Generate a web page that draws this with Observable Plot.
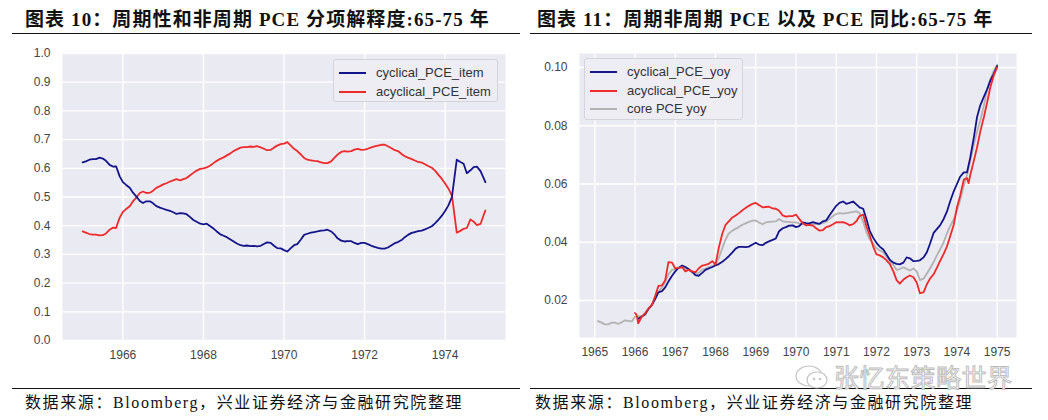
<!DOCTYPE html>
<html><head><meta charset="utf-8">
<script src="https://cdn.jsdelivr.net/npm/d3@7"></script>
<script src="https://cdn.jsdelivr.net/npm/@observablehq/plot@0.6"></script>
<style>
body{margin:0;background:#fff;}
#root{position:relative;width:1048px;height:420px;overflow:hidden;background:#fff;}
.title{position:absolute;top:9px;line-height:22px;font-weight:bold;font-size:19px;letter-spacing:1.1px;font-family:"Liberation Serif","Noto Sans CJK SC",serif;color:#111;white-space:nowrap;}
.rule{position:absolute;height:0;border-top:1.4px solid #111;}
.foot{position:absolute;top:393px;line-height:20px;font-size:16px;letter-spacing:1.6px;font-family:"Liberation Serif","Noto Sans CJK SC",serif;color:#111;white-space:nowrap;}
.chart{position:absolute;top:40px;}
.legend{position:absolute;background:#EDEDF3;border:1px solid #D4D4DC;border-radius:3px;font-family:"Liberation Sans",Arial,sans-serif;font-size:13px;color:#333;box-sizing:border-box;}
.row{position:absolute;left:0;height:18px;line-height:18px;white-space:nowrap;}
.sw{position:absolute;top:8px;height:0;border-top:2px solid;}
.wm{position:absolute;left:834px;top:363px;line-height:26px;font-family:"Noto Sans CJK SC",sans-serif;font-size:25px;color:#fff;-webkit-text-stroke:1px #bdbdbd;letter-spacing:0.5px;white-space:nowrap;}
</style></head>
<body><div id="root"></div>
<script>
// ---------- Chart 10 data ----------
const leftDates = [1965.00,1965.08,1965.17,1965.25,1965.33,1965.42,1965.50,1965.58,1965.67,1965.75,1965.83,1965.92,
1966.00,1966.08,1966.17,1966.25,1966.33,1966.42,1966.50,1966.58,1966.67,1966.75,1966.83,1966.92,
1967.00,1967.08,1967.17,1967.25,1967.33,1967.42,1967.50,1967.58,1967.67,1967.75,1967.83,1967.92,
1968.00,1968.08,1968.17,1968.25,1968.33,1968.42,1968.50,1968.58,1968.67,1968.75,1968.83,1968.92,
1969.00,1969.08,1969.17,1969.25,1969.33,1969.42,1969.50,1969.58,1969.67,1969.75,1969.83,1969.92,
1970.00,1970.08,1970.17,1970.25,1970.33,1970.42,1970.50,1970.58,1970.67,1970.75,1970.83,1970.92,
1971.00,1971.08,1971.17,1971.25,1971.33,1971.42,1971.50,1971.58,1971.67,1971.75,1971.83,1971.92,
1972.00,1972.08,1972.17,1972.25,1972.33,1972.42,1972.50,1972.58,1972.67,1972.75,1972.83,1972.92,
1973.00,1973.08,1973.17,1973.25,1973.33,1973.42,1973.50,1973.58,1973.67,1973.75,1973.83,1973.92,
1974.00,1974.08,1974.17,1974.29,1974.38,1974.46,1974.54,1974.63,1974.71,1974.79,1974.88,1974.96,1975.00];
const cyclicalItem = [0.621,0.624,0.630,0.632,0.632,0.637,0.634,0.626,0.612,0.606,0.607,0.572,
0.552,0.542,0.532,0.515,0.502,0.486,0.479,0.485,0.485,0.478,0.468,0.463,
0.459,0.455,0.452,0.447,0.441,0.444,0.443,0.440,0.430,0.420,0.414,0.407,
0.405,0.407,0.398,0.390,0.380,0.370,0.365,0.360,0.352,0.345,0.338,0.332,
0.330,0.331,0.329,0.330,0.328,0.330,0.336,0.342,0.340,0.330,0.322,0.321,
0.315,0.310,0.322,0.332,0.336,0.352,0.368,0.372,0.376,0.378,0.380,0.383,
0.384,0.386,0.380,0.370,0.356,0.348,0.345,0.346,0.346,0.340,0.336,0.340,
0.340,0.336,0.330,0.326,0.323,0.320,0.320,0.324,0.332,0.339,0.343,0.350,
0.360,0.368,0.375,0.378,0.381,0.383,0.387,0.392,0.398,0.408,0.420,0.435,
0.451,0.470,0.500,0.630,0.622,0.616,0.583,0.593,0.604,0.606,0.590,0.565,0.552];
const acyclicalItem = [0.380,0.376,0.371,0.369,0.369,0.366,0.367,0.373,0.386,0.393,0.392,0.428,
0.448,0.458,0.468,0.485,0.498,0.514,0.519,0.514,0.515,0.522,0.532,0.538,
0.544,0.548,0.554,0.558,0.562,0.558,0.562,0.566,0.576,0.584,0.592,0.598,
0.600,0.603,0.610,0.618,0.626,0.633,0.638,0.645,0.652,0.660,0.666,0.672,
0.674,0.674,0.676,0.675,0.677,0.673,0.668,0.663,0.664,0.672,0.679,0.684,
0.686,0.691,0.679,0.668,0.660,0.648,0.636,0.630,0.628,0.626,0.625,0.621,
0.618,0.618,0.624,0.636,0.648,0.657,0.660,0.658,0.660,0.665,0.668,0.664,
0.665,0.668,0.673,0.676,0.679,0.682,0.682,0.677,0.670,0.663,0.660,0.650,
0.642,0.637,0.632,0.627,0.622,0.620,0.614,0.608,0.602,0.592,0.578,0.563,
0.547,0.530,0.505,0.376,0.382,0.389,0.392,0.422,0.414,0.402,0.406,0.438,0.453];
const leftXTicks = [1966,1968,1970,1972,1974];
const leftYTicks = [0,0.1,0.2,0.3,0.4,0.5,0.6,0.7,0.8,0.9,1.0];
const leftSeries = ["cyclical_PCE_item","acyclical_PCE_item"];

// ---------- Chart 11 data ----------
const coreDates = [1965.08,1965.17,1965.25,1965.33,1965.42,1965.50,1965.58,1965.67,1965.75,1965.83,1965.92,
1966.00,1966.08,1966.17,1966.25,1966.33,1966.42,1966.50,1966.58,1966.67,1966.75,1966.83,1966.92,
1967.00,1967.08,1967.17,1967.25,1967.33,1967.42,1967.50,1967.58,1967.67,1967.75,1967.83,1967.92,
1968.00,1968.08,1968.17,1968.25,1968.33,1968.42,1968.50,1968.58,1968.67,1968.75,1968.83,1968.92,
1969.00,1969.08,1969.17,1969.25,1969.33,1969.42,1969.50,1969.58,1969.67,1969.75,1969.83,1969.92,
1970.00,1970.08,1970.17,1970.25,1970.33,1970.42,1970.50,1970.58,1970.67,1970.75,1970.83,1970.92,
1971.00,1971.08,1971.17,1971.25,1971.33,1971.42,1971.50,1971.58,1971.67,1971.75,1971.83,1971.92,
1972.00,1972.08,1972.17,1972.25,1972.33,1972.42,1972.50,1972.58,1972.67,1972.75,1972.83,1972.92,
1973.00,1973.08,1973.17,1973.25,1973.33,1973.42,1973.50,1973.58,1973.67,1973.75,1973.83,1973.92,
1974.00,1974.08,1974.17,1974.25,1974.33,1974.42,1974.50,1974.58,1974.67,1974.75,1974.83,1974.92,1975.00];
const coreYoy = [0.0129,0.0124,0.0118,0.0118,0.0124,0.0124,0.0120,0.0125,0.0132,0.0130,0.0128,
0.0145,0.0146,0.0145,0.0158,0.0170,0.0185,0.0210,0.0230,0.0245,0.0262,0.0290,0.0305,
0.0308,0.0312,0.0312,0.0310,0.0305,0.0300,0.0293,0.0295,0.0305,0.0310,0.0315,0.0318,
0.0325,0.0345,0.0380,0.0410,0.0430,0.0440,0.0446,0.0452,0.0460,0.0465,0.0470,0.0474,
0.0475,0.0468,0.0462,0.0468,0.0470,0.0471,0.0472,0.0480,0.0472,0.0470,0.0470,0.0468,
0.0468,0.0465,0.0462,0.0460,0.0460,0.0462,0.0462,0.0463,0.0466,0.0470,0.0480,0.0490,
0.0497,0.0500,0.0498,0.0500,0.0502,0.0504,0.0506,0.0500,0.0470,0.0435,0.0410,0.0395,
0.0380,0.0372,0.0365,0.0350,0.0335,0.0322,0.0305,0.0308,0.0314,0.0308,0.0303,0.0310,
0.0300,0.0270,0.0275,0.0292,0.0310,0.0332,0.0355,0.0375,0.0400,0.0430,0.0455,0.0478,
0.0510,0.0545,0.0595,0.0630,0.0680,0.0735,0.0780,0.0818,0.0870,0.0925,0.0960,0.0990,0.1010];
const cycDates = [1966.08,1966.17,1966.25,1966.33,1966.42,1966.50,1966.58,1966.67,1966.75,1966.83,1966.92,
1967.00,1967.08,1967.17,1967.25,1967.33,1967.42,1967.50,1967.58,1967.67,1967.75,1967.83,1967.92,
1968.00,1968.08,1968.17,1968.25,1968.33,1968.42,1968.50,1968.58,1968.67,1968.75,1968.83,1968.92,
1969.00,1969.08,1969.17,1969.25,1969.33,1969.42,1969.50,1969.58,1969.67,1969.75,1969.83,1969.92,
1970.00,1970.08,1970.17,1970.25,1970.33,1970.42,1970.50,1970.58,1970.67,1970.75,1970.83,1970.92,
1971.00,1971.08,1971.17,1971.25,1971.33,1971.42,1971.50,1971.58,1971.67,1971.75,1971.83,1971.92,
1972.00,1972.08,1972.17,1972.25,1972.33,1972.42,1972.50,1972.58,1972.67,1972.75,1972.83,1972.92,
1973.00,1973.08,1973.17,1973.25,1973.33,1973.42,1973.50,1973.58,1973.67,1973.75,1973.83,1973.92,
1974.00,1974.08,1974.17,1974.25,1974.33,1974.42,1974.50,1974.58,1974.67,1974.75,1974.83,1974.92,1975.00];
const cyclicalYoy = [0.0137,0.0145,0.0152,0.0170,0.0185,0.0205,0.0228,0.0232,0.0245,0.0265,0.0285,
0.0300,0.0312,0.0320,0.0315,0.0308,0.0298,0.0287,0.0285,0.0295,0.0305,0.0310,0.0315,
0.0320,0.0325,0.0333,0.0342,0.0352,0.0365,0.0378,0.0384,0.0384,0.0383,0.0385,0.0392,
0.0398,0.0392,0.0390,0.0398,0.0403,0.0408,0.0413,0.0438,0.0448,0.0452,0.0457,0.0458,
0.0452,0.0455,0.0468,0.0466,0.0465,0.0469,0.0466,0.0463,0.0472,0.0475,0.0492,0.0510,
0.0525,0.0535,0.0540,0.0532,0.0535,0.0540,0.0530,0.0520,0.0515,0.0480,0.0440,0.0415,
0.0398,0.0385,0.0375,0.0358,0.0340,0.0330,0.0326,0.0324,0.0330,0.0348,0.0345,0.0335,
0.0336,0.0338,0.0348,0.0365,0.0395,0.0432,0.0445,0.0458,0.0480,0.0505,0.0540,0.0575,
0.0600,0.0625,0.0640,0.0640,0.0690,0.0760,0.0830,0.0870,0.0900,0.0925,0.0955,0.0980,0.1005];
const acycDates = [1966.00,1966.04,1966.08,1966.17,1966.25,1966.33,1966.42,1966.50,1966.58,1966.67,1966.75,1966.83,1966.92,
1967.00,1967.08,1967.17,1967.25,1967.33,1967.42,1967.50,1967.58,1967.67,1967.75,1967.83,1967.92,
1968.00,1968.08,1968.17,1968.25,1968.33,1968.42,1968.50,1968.58,1968.67,1968.75,1968.83,1968.92,
1969.00,1969.08,1969.17,1969.25,1969.33,1969.42,1969.50,1969.58,1969.67,1969.75,1969.83,1969.92,
1970.00,1970.08,1970.17,1970.25,1970.33,1970.42,1970.50,1970.58,1970.67,1970.75,1970.83,1970.92,
1971.00,1971.08,1971.17,1971.25,1971.33,1971.42,1971.50,1971.58,1971.67,1971.75,1971.83,1971.92,
1972.00,1972.08,1972.17,1972.25,1972.33,1972.42,1972.50,1972.58,1972.67,1972.75,1972.83,1972.92,
1973.00,1973.08,1973.17,1973.25,1973.33,1973.42,1973.50,1973.58,1973.67,1973.75,1973.83,1973.92,
1974.00,1974.08,1974.17,1974.25,1974.29,1974.33,1974.42,1974.50,1974.58,1974.67,1974.75,1974.83,1974.92,1975.00];
const acyclicalYoy = [0.0157,0.0150,0.0122,0.0145,0.0155,0.0172,0.0185,0.0215,0.0250,0.0252,0.0270,0.0332,0.0330,
0.0310,0.0312,0.0315,0.0300,0.0305,0.0300,0.0297,0.0310,0.0320,0.0322,0.0326,0.0335,
0.0323,0.0380,0.0430,0.0460,0.0472,0.0485,0.0492,0.0500,0.0510,0.0518,0.0525,0.0532,
0.0535,0.0528,0.0520,0.0521,0.0522,0.0516,0.0515,0.0508,0.0492,0.0488,0.0490,0.0490,
0.0495,0.0480,0.0465,0.0458,0.0460,0.0457,0.0448,0.0440,0.0442,0.0452,0.0455,0.0462,
0.0469,0.0468,0.0469,0.0465,0.0458,0.0462,0.0472,0.0490,0.0495,0.0455,0.0425,0.0385,
0.0358,0.0355,0.0348,0.0338,0.0326,0.0300,0.0270,0.0258,0.0272,0.0280,0.0286,0.0280,
0.0262,0.0225,0.0228,0.0255,0.0275,0.0290,0.0312,0.0335,0.0360,0.0385,0.0420,0.0460,
0.0520,0.0560,0.0615,0.0620,0.0603,0.0630,0.0680,0.0726,0.0780,0.0830,0.0880,0.0932,0.0975,0.1000];
const rightXTicks = [1965,1966,1967,1968,1969,1970,1971,1972,1973,1974,1975];
const rightYTicks = [0.02,0.04,0.06,0.08,0.10];
const rightSeries = ["cyclical_PCE_yoy","acyclical_PCE_yoy","core PCE yoy"];

// ---------- styling ----------
const BLUE = "#14148a", RED = "#ee2a2a", GRAY = "#b2b2b2", BG = "#EAEAF2";
const axisStyle = {background:"transparent", fontFamily:"'Liberation Sans',Arial,sans-serif", fontSize:"12px", color:"#444", overflow:"visible"};
const grid = {stroke:"#fff", strokeOpacity:1, strokeWidth:1.3};
const zipT = (ds, vs) => ds.map((t,i) => ({t, v: vs[i]}));

const root = document.getElementById("root");
function add(html){ const d=document.createElement("div"); d.innerHTML=html; while(d.firstChild) root.appendChild(d.firstChild); }

add(`<div class="title" style="left:25px">图表 10：周期性和非周期 PCE 分项解释度:65-75 年</div>
<div class="title" style="left:537px">图表 11：周期非周期 PCE 以及 PCE 同比:65-75 年</div>
<div class="rule" style="left:12px;width:508px;top:33px"></div>
<div class="rule" style="left:530px;width:502px;top:33px"></div>
<div class="rule" style="left:12px;width:508px;top:388px"></div>
<div class="rule" style="left:530px;width:502px;top:388px"></div>
<div class="foot" style="left:25px">数据来源：Bloomberg，兴业证券经济与金融研究院整理</div>
<div class="foot" style="left:535px">数据来源：Bloomberg，兴业证券经济与金融研究院整理</div>`);

const left = Plot.plot({
  width:524, height:330, marginLeft:62, marginRight:19, marginTop:13, marginBottom:30,
  style:axisStyle,
  x:{domain:[1964.5,1975.5], ticks:leftXTicks, tickFormat:d3.format("d"), tickSize:0, tickPadding:10, label:null},
  y:{domain:[0,1], ticks:leftYTicks, tickFormat:d3.format(".1f"), tickSize:0, tickPadding:12, label:null},
  marks:[
    Plot.frame({fill:BG, stroke:null}),
    Plot.gridX(leftXTicks, grid),
    Plot.gridY(leftYTicks, grid),
    Plot.lineY(zipT(leftDates, acyclicalItem), {x:"t", y:"v", stroke:RED, strokeWidth:1.8}),
    Plot.lineY(zipT(leftDates, cyclicalItem), {x:"t", y:"v", stroke:BLUE, strokeWidth:1.8})
  ]
});
left.classList.add("chart"); left.style.left="0px"; root.appendChild(left);

const right = Plot.plot({
  width:524, height:330, marginLeft:55, marginRight:32, marginTop:13, marginBottom:33,
  style:axisStyle,
  x:{domain:[1964.62,1975.48], ticks:rightXTicks, tickFormat:d3.format("d"), tickSize:0, tickPadding:10, label:null},
  y:{domain:[0.0073,0.1048], ticks:rightYTicks, tickFormat:d3.format(".2f"), tickSize:0, tickPadding:12, label:null},
  marks:[
    Plot.frame({fill:BG, stroke:null}),
    Plot.gridX(rightXTicks, grid),
    Plot.gridY(rightYTicks, grid),
    Plot.lineY(zipT(coreDates, coreYoy), {x:"t", y:"v", stroke:GRAY, strokeWidth:1.8}),
    Plot.lineY(zipT(cycDates, cyclicalYoy), {x:"t", y:"v", stroke:BLUE, strokeWidth:1.8}),
    Plot.lineY(zipT(acycDates, acyclicalYoy), {x:"t", y:"v", stroke:RED, strokeWidth:1.8})
  ]
});
right.classList.add("chart"); right.style.left="524px"; root.appendChild(right);

// legends
function legend(x, y, w, names, colors){
  let rows = names.map((n,i)=>`<div class="row" style="top:${4+i*18.5}px"><div class="sw" style="left:5px;width:27px;border-color:${colors[i]}"></div><span style="position:absolute;left:42px">${n}</span></div>`).join("");
  add(`<div class="legend" style="left:${x}px;top:${y}px;width:${w}px;height:${names.length*18.5+6}px">${rows}</div>`);
}
legend(333, 59, 165, leftSeries, [BLUE, RED]);
legend(584, 58, 159, rightSeries, [BLUE, RED, GRAY]);

// watermark
add(`<svg style="position:absolute;left:792px;top:363px" width="40" height="28"><ellipse cx="17" cy="13" rx="13" ry="10" fill="none" stroke="#c4c4c4" stroke-width="1.2"/><ellipse cx="25" cy="17" rx="10" ry="8" fill="#fff" stroke="#c4c4c4" stroke-width="1.2"/><circle cx="22" cy="16" r="1.3" fill="#c4c4c4"/><circle cx="28" cy="16" r="1.3" fill="#c4c4c4"/></svg>
<div class="wm">张忆东策略世界</div>`);
</script></body></html>
